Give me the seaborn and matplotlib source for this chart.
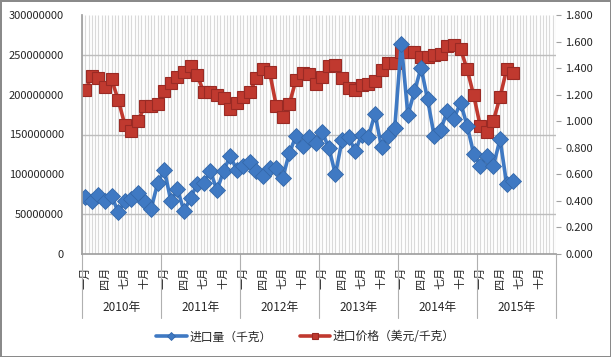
'''进口量与进口价格 2010-2015'''
import numpy as np
import pandas as pd
import seaborn as sns
import matplotlib.pyplot as plt
from matplotlib.ticker import FuncFormatter, MultipleLocator

# 年份 / 月份标签
years = ['2010年', '2011年', '2012年', '2013年', '2014年', '2015年']
month_labels = ['一月', '四月', '七月', '十月']

# 进口量（千克）, 2010年1月 - 2015年6月
qty = [72, 66, 74, 66.5, 73, 52.5, 66, 68.5, 76.5, 65, 57, 89,
       106, 66.5, 81, 54, 70.5, 88, 89, 104, 80, 104, 123, 106,
       110, 116, 104, 98, 108, 108, 96, 127, 148, 136, 147, 139,
       153, 133, 100, 143, 147, 129, 150, 147, 176, 134, 148, 158,
       264, 175, 204, 234, 194, 148, 156, 180, 170, 190, 161, 126,
       111, 123, 111, 144, 88, 92]
qty = [v * 1e6 for v in qty]

# 进口价格（美元/千克）
price = [1.235, 1.34, 1.325, 1.26, 1.315, 1.16, 0.975, 0.925, 1.0, 1.112, 1.118, 1.128,
         1.225, 1.285, 1.335, 1.372, 1.418, 1.345, 1.22, 1.218, 1.195, 1.175, 1.094, 1.135,
         1.185, 1.22, 1.325, 1.39, 1.37, 1.118, 1.032, 1.13, 1.312, 1.362, 1.355, 1.278,
         1.335, 1.415, 1.42, 1.325, 1.25, 1.238, 1.275, 1.282, 1.3, 1.385, 1.435, 1.435,
         1.525, 1.525, 1.518, 1.485, 1.482, 1.5, 1.505, 1.57, 1.575, 1.545, 1.39, 1.195,
         0.962, 0.918, 1.005, 1.182, 1.39, 1.362]


def main():
    '''main function
    '''
    sns.set_theme(style='white')
    plt.rcParams['font.family'] = ['Noto Sans CJK SC', 'DejaVu Sans']

    n_months = len(years) * 12
    df = pd.DataFrame({'pos': np.arange(len(qty)), 'qty': qty, 'price': price})

    fig = plt.figure(figsize=(6.11, 3.57), dpi=100)
    fig.patch.set_edgecolor('#8a8a8a')
    fig.patch.set_linewidth(2)

    ax = fig.add_axes([82 / 611, 1 - 254 / 357, 474 / 611, 239 / 357])
    ax2 = ax.twinx()
    # 数量线画在价格线上面
    ax.set_zorder(2)
    ax2.set_zorder(1)
    ax.patch.set_visible(False)

    # 网格（画在下层的 ax2 上）
    ax2.vlines(np.arange(-0.5, n_months, 0.5), 0, 1,
               transform=ax2.get_xaxis_transform(),
               colors='#dadada', linewidth=0.8, zorder=0)
    ax2.yaxis.set_minor_locator(MultipleLocator(0.3))
    ax2.grid(which='minor', axis='y', color='#bdbdbd', linewidth=1.0)
    ax2.grid(which='major', axis='y', visible=False)

    sns.lineplot(data=df, x='pos', y='price', ax=ax2, color='#C0392F',
                 linewidth=2.6, marker='s', markersize=8.2,
                 markeredgecolor='#9a2a24', markeredgewidth=0.8,
                 label='进口价格（美元/千克）', legend=False)
    sns.lineplot(data=df, x='pos', y='qty', ax=ax, color='#3F79C3',
                 linewidth=2.6, marker='D', markersize=8.0,
                 markeredgecolor='#3468aa', markeredgewidth=0.6,
                 label='进口量（千克）', legend=False)

    ax.set_xlim(-0.5, n_months - 0.5)
    ax.set_ylim(0, 3e8)
    ax2.set_ylim(0, 1.8)
    ax.set_yticks(np.arange(0, 3.01e8, 5e7))
    ax2.set_yticks(np.arange(0, 1.81, 0.2))
    ax.yaxis.set_major_formatter(FuncFormatter(lambda v, p: f'{v:.0f}'))
    ax2.yaxis.set_major_formatter(FuncFormatter(lambda v, p: f'{v:.3f}'))
    for a in (ax, ax2):
        a.set_xlabel('')
        a.set_ylabel('')
        for s in a.spines.values():
            s.set_visible(False)
    ax.spines['left'].set_visible(True)
    ax.spines['left'].set_color('#a0a0a0')
    ax.spines['bottom'].set_visible(True)
    ax.spines['bottom'].set_color('#a0a0a0')

    ax.tick_params(axis='y', length=0, pad=13, labelsize=8, labelcolor='#262626')
    ax2.tick_params(axis='y', which='major', length=3.5, width=0.8, color='#a0a0a0',
                    pad=3, labelsize=8, labelcolor='#262626')
    ax2.tick_params(axis='y', which='minor', length=0)

    # 月份标签
    tick_pos = [i for i in range(n_months) if i % 3 == 0]
    ax.set_xticks(tick_pos)
    ax.set_xticklabels([month_labels[(i % 12) // 3] for i in tick_pos],
                       rotation=90, fontsize=8, color='#262626')
    ax.xaxis.set_minor_locator(MultipleLocator(1, offset=0.5))
    ax.tick_params(axis='x', which='major', length=0, pad=9)
    ax.tick_params(axis='x', which='minor', length=26, width=0.7,
                   color='#d0d0d0', direction='out')

    # 年份标签和分隔线
    sep_len = 64 / 239
    for k, yr in enumerate(years):
        ax.text(k * 12 + 5.5, -53 / 239, yr, transform=ax.get_xaxis_transform(),
                ha='center', va='center', fontsize=8.5, color='#262626')
    for k in range(len(years) + 1):
        ax.plot([k * 12 - 0.5] * 2, [0, -sep_len], transform=ax.get_xaxis_transform(),
                color='#b0b0b0', linewidth=0.8, clip_on=False)

    h1, l1 = ax.get_legend_handles_labels()
    h2, l2 = ax2.get_legend_handles_labels()
    fig.legend(h1 + h2, l1 + l2, loc='center', bbox_to_anchor=(0.5, 1 - 337 / 357),
               ncol=2, frameon=False, fontsize=8.5, handlelength=2.6,
               columnspacing=2.4, handletextpad=0.2, markerscale=0.55)

    fig.savefig('out.png', dpi=100)


if __name__ == '__main__':
    main()
